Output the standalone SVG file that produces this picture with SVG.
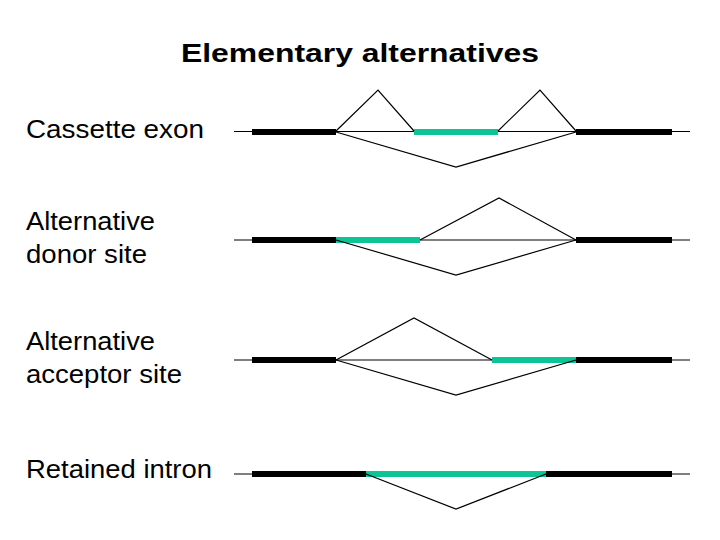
<svg xmlns="http://www.w3.org/2000/svg" width="720" height="540" viewBox="0 0 720 540">
<style>
text{font-family:"Liberation Sans",Arial,sans-serif;fill:#000}
.lbl{font-size:25.5px}
.title{font-size:26.5px;font-weight:bold}
.intron{stroke:#000;stroke-width:1.2;fill:none}
.exon{stroke:#000;stroke-width:6}
.alt{stroke:#0cc496;stroke-width:6}
.splice{stroke:#000;stroke-width:1.2;fill:none;stroke-linejoin:miter}
</style>
<rect width="720" height="540" fill="#fff"/>
<text class="title" x="181" y="62" textLength="358" lengthAdjust="spacingAndGlyphs">Elementary alternatives</text>
<g id="label-cassette"><text class="lbl" x="26" y="138" textLength="178" lengthAdjust="spacingAndGlyphs">Cassette exon</text></g>
<g id="label-donor"><text class="lbl" x="26" y="230" textLength="129" lengthAdjust="spacingAndGlyphs">Alternative</text><text class="lbl" x="26" y="263" textLength="121" lengthAdjust="spacingAndGlyphs">donor site</text></g>
<g id="label-acceptor"><text class="lbl" x="26" y="350" textLength="129" lengthAdjust="spacingAndGlyphs">Alternative</text><text class="lbl" x="26" y="383" textLength="156" lengthAdjust="spacingAndGlyphs">acceptor site</text></g>
<g id="label-retained"><text class="lbl" x="26" y="478" textLength="186" lengthAdjust="spacingAndGlyphs">Retained intron</text></g>
<g id="row-cassette">
<line class="intron" x1="234" y1="131.5" x2="690" y2="131.5"/>
<line class="exon" x1="252" y1="132" x2="336" y2="132"/>
<line class="alt" x1="414" y1="132" x2="498" y2="132"/>
<line class="exon" x1="576" y1="132" x2="672" y2="132"/>
</g>
<g id="row-donor">
<line class="intron" x1="234" y1="240" x2="690" y2="240"/>
<line class="exon" x1="252" y1="240" x2="336" y2="240"/>
<line class="alt" x1="336" y1="240" x2="420" y2="240"/>
<line class="exon" x1="576" y1="240" x2="672" y2="240"/>
</g>
<g id="row-acceptor">
<line class="intron" x1="234" y1="360" x2="690" y2="360"/>
<line class="exon" x1="252" y1="360" x2="336" y2="360"/>
<line class="alt" x1="492" y1="360" x2="576" y2="360"/>
<line class="exon" x1="576" y1="360" x2="672" y2="360"/>
</g>
<g id="row-retained">
<line class="intron" x1="234" y1="474" x2="690" y2="474"/>
<line class="exon" x1="252" y1="474" x2="366" y2="474"/>
<line class="alt" x1="366" y1="474" x2="546" y2="474"/>
<line class="exon" x1="546" y1="474" x2="672" y2="474"/>
</g>
<g id="connectors">
<polyline class="splice" points="336,131 378,90 414,131"/>
<polyline class="splice" points="498,131 540,90 576,131"/>
<polyline class="splice" points="336,132 456,167 576,132"/>
<polyline class="splice" points="420,240 499,198 576,240"/>
<polyline class="splice" points="336,240 456,275 576,240"/>
<polyline class="splice" points="336,360 414,318 492,360"/>
<polyline class="splice" points="336,360 456,395 576,360"/>
<polyline class="splice" points="366,474 456,509 546,474"/>
</g>
</svg>
